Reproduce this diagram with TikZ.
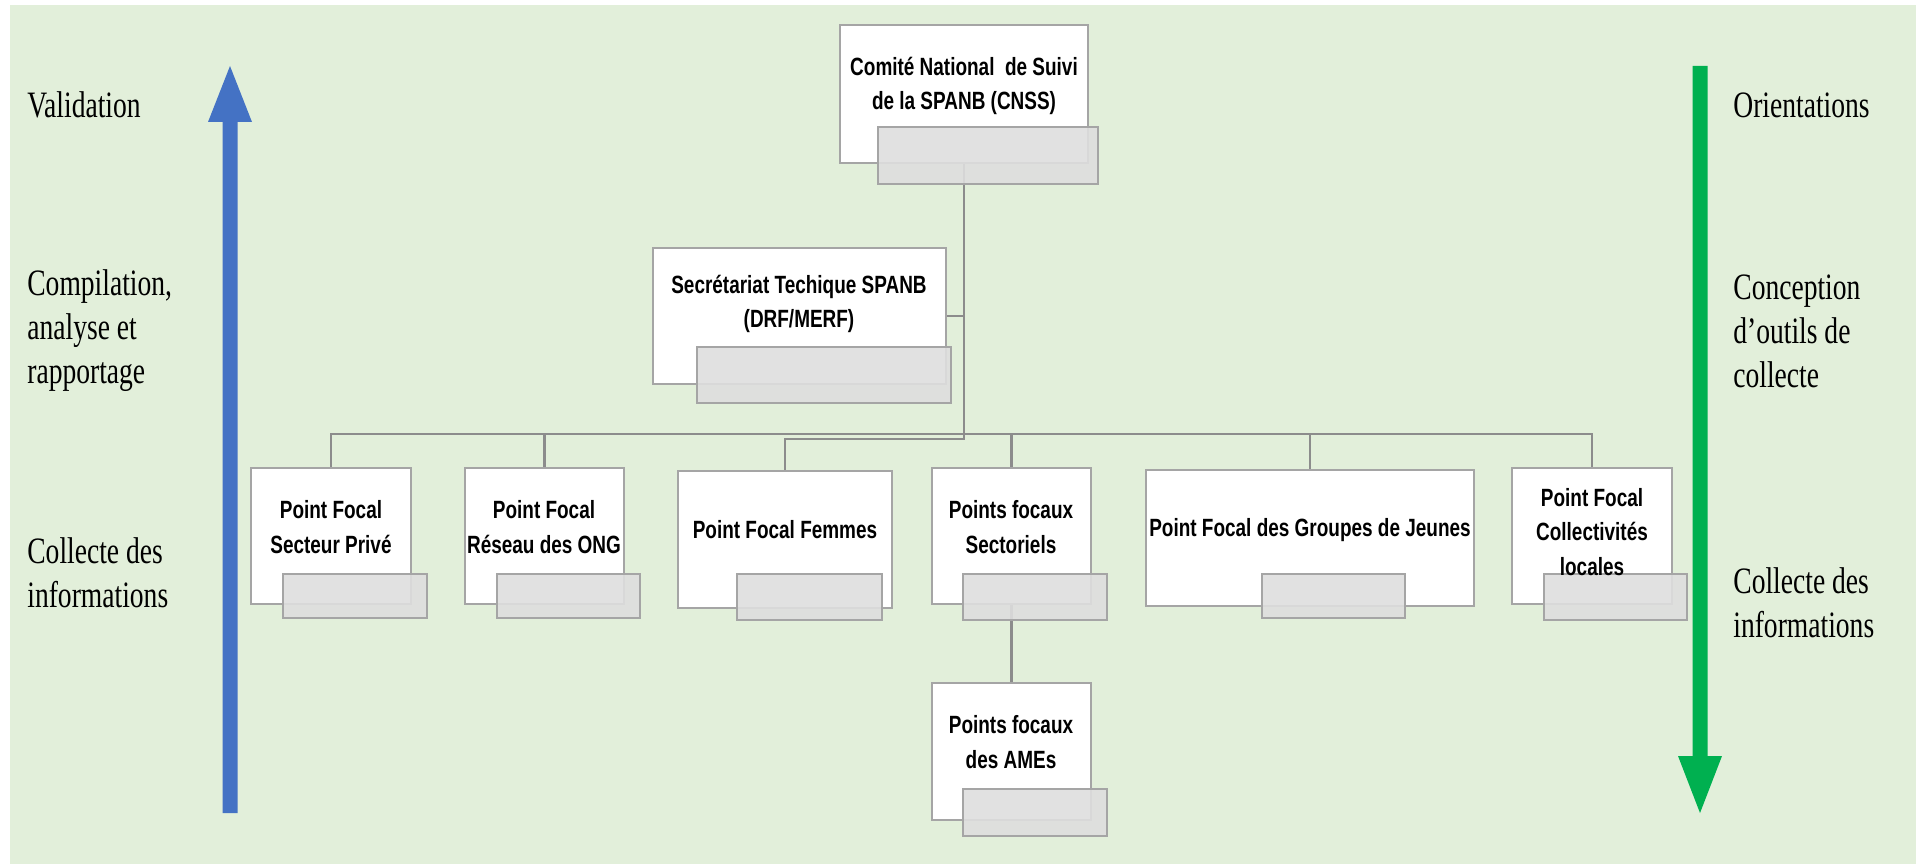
\documentclass[tikz,border=0pt]{standalone}
\usepackage{fontspec}
\usetikzlibrary{fit}
\newfontfamily\sidefam[FakeStretch=0.74]{Liberation Serif}
\newfontfamily\boxfam[FakeStretch=0.76]{Liberation Sans}
\newcommand\sidefont{\sidefam\fontsize{21.2}{25}\selectfont}
\newcommand\boxfont{\boxfam\bfseries\fontsize{14.2}{19.5}\selectfont}
\definecolor{bggreen}{RGB}{226,239,218}
\definecolor{boxline}{RGB}{165,165,165}
\definecolor{linkgrey}{RGB}{140,140,140}
\definecolor{greybox}{RGB}{222,222,222}
\definecolor{uparrow}{RGB}{68,114,196}
\definecolor{downarrow}{RGB}{0,176,80}
\begin{document}
\begin{tikzpicture}[x=0.02cm,y=-0.02cm,
	wbox/.style={draw=boxline, fill=white, line width=1.1pt, inner sep=0pt},
	gbox/.style={draw=boxline, fill=greybox, fill opacity=0.9, line width=1.1pt, inner sep=0pt},
	lbl/.style={font=\boxfont, align=center, inner sep=0pt},
	side/.style={font=\sidefont, align=left, anchor=west, inner sep=0pt},
	link/.style={draw=linkgrey, line width=1.2pt}]
	\useasboundingbox (0,0) rectangle (1916,864);
	\fill[bggreen] (10,5) rectangle (1916,864);
	% side arrows
	\fill[uparrow] (222.5,813) -- (222.5,122) -- (208,122) -- (230,66)
	-- (252,122) -- (237.5,122) -- (237.5,813) -- cycle;
	\fill[downarrow] (1692.5,66) -- (1692.5,756) -- (1678,756) -- (1700,813)
	-- (1722,756) -- (1707.5,756) -- (1707.5,66) -- cycle;
	\node[side] (val) at (27,105) {Validation};
	\node[side] (comp) at (27,331) {Compilation,\\analyse et\\rapportage};
	\node[side] (collL) at (27,573) {Collecte des\\informations};
	\node[side] (orient) at (1733,105) {Orientations};
	\node[side] (concep) at (1733,331) {Conception\\d’outils de\\collecte};
	\node[side] (collR) at (1733,603) {Collecte des\\informations};
	% white boxes
	\node[wbox, fit={(840,25) (1088,163)}] (cnss) {};
	\node[wbox, fit={(653,248) (946,384)}] (secr) {};
	\node[wbox, fit={(251,468) (411,604)}] (spriv) {};
	\node[wbox, fit={(465,468) (624,604)}] (ong) {};
	\node[wbox, fit={(678,471) (892,608)}] (fem) {};
	\node[wbox, fit={(932,468) (1091,604)}] (sect) {};
	\node[wbox, fit={(1146,470) (1474,606)}] (jeun) {};
	\node[wbox, fit={(1512,468) (1672,604)}] (coll) {};
	\node[wbox, fit={(932,683) (1091,820)}] (ames) {};
	% connectors
	\coordinate (hub) at (964,434);
	\draw[link] (cnss.south) -- (hub);
	\draw[link] (cnss.south |- secr.east) -- (secr.east);
	\foreach \c in {spriv,ong,sect,jeun,coll}
	\draw[link] (hub) -| (\c.north);
	\draw[link] (hub) -- ++(0,5) -| (fem.north);
	\draw[link] (sect.south) -- (ames.north);
	% grey boxes
	\node[gbox, fit={(878,127) (1098,184)}] (cnssG) {};
	\node[gbox, fit={(697,347) (951,403)}] (secrG) {};
	\node[gbox, fit={(283,574) (427,618)}] (sprivG) {};
	\node[gbox, fit={(497,574) (640,618)}] (ongG) {};
	\node[gbox, fit={(737,574) (882,620)}] (femG) {};
	\node[gbox, fit={(963,574) (1107,620)}] (sectG) {};
	\node[gbox, fit={(1262,574) (1405,618)}] (jeunG) {};
	\node[gbox, fit={(1544,574) (1687,620)}] (collG) {};
	\node[gbox, fit={(963,789) (1107,836)}] (amesG) {};
	% box texts
	\node[lbl] (cnssT) at (964,86) {Comité National\ \ de Suivi\\de la SPANB (CNSS)};
	\node[lbl] (secrT) at (799,304) {Secrétariat Techique SPANB\\(DRF/MERF)};
	\node[lbl] (sprivT) at (331,527) {Point Focal\\Secteur Privé};
	\node[lbl] (ongT) at (544,527) {Point Focal\\Réseau des ONG};
	\node[lbl] (femT) at (785,530) {Point Focal Femmes};
	\node[lbl] (sectT) at (1011,527) {Points focaux\\Sectoriels};
	\node[lbl] (jeunT) at (1310,530) {Point Focal des Groupes de Jeunes};
	\node[lbl] (collT) at (1592,532) {Point Focal\\Collectivités\\locales};
	\node[lbl] (amesT) at (1011,742) {Points focaux\\des AMEs};
\end{tikzpicture}
\end{document}
